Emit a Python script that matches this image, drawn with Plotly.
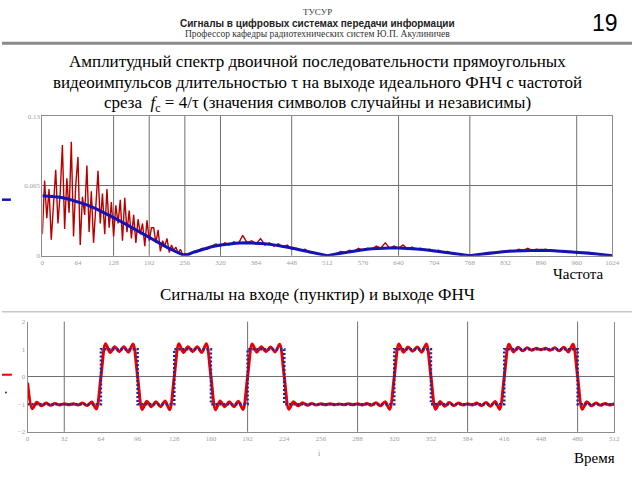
import plotly.graph_objects as go

W, H = 640, 480

# --- spectrum (top chart), magnitudes in thousandths ---
spec_f_lo = list(range(0, 257, 4))
spec_red_lo = [
    20, 70, 35, 62, 15, 48, 80, 30, 58, 103,
    25, 72, 40, 106, 18, 66, 92, 10, 55, 38,
    84, 22, 60, 12, 45, 79, 30, 58, 20, 62,
    26, 50, 18, 47, 30, 52, 14, 54, 22, 42,
    16, 38, 12, 34, 20, 30, 9, 33, 14, 26,
    26, 12, 24, 4, 14, 9, 16, 3, 10, 5,
    8, 2, 6, 1, 2,
]
spec_f_hi = list(range(264, 1025, 8))
spec_red_hi = [
    1, 4, 5, 7, 6, 9, 11, 9, 12, 10,
    13, 11, 19, 12, 14, 11, 16, 10, 12, 9,
    11, 8, 10, 6, 7, 5, 6, 3, 3, 2,
    1, 0, 1, 2, 4, 3, 5, 4, 7, 5,
    7, 6, 9, 7, 12, 7, 9, 7, 10, 6,
    8, 6, 7, 5, 6, 4, 5, 3, 4, 2,
    2, 1, 1, 0, 1, 1, 2, 3, 3, 3,
    4, 4, 5, 4, 6, 5, 7, 5, 6, 5,
    6, 5, 5, 4, 5, 4, 4, 3, 3, 3,
    3, 2, 1, 1, 0, 0,
]
env_f = list(range(0, 1025, 16))
env_mag = [
    55.8, 55.4, 54.4, 52.6, 50.2, 47.3, 43.8, 39.8, 35.5, 31.0, 26.3, 21.5, 16.7, 12.1, 7.8, 3.7, 0,
    3.3, 6.0, 8.3, 10.0, 11.3, 11.9, 12.1, 11.8, 11.1, 10.1, 8.8, 7.2, 5.4, 3.6, 1.8, 0,
    1.7, 3.2, 4.5, 5.6, 6.4, 6.9, 7.1, 7.1, 6.8, 6.3, 5.5, 4.6, 3.5, 2.4, 1.2, 0,
    1.1, 2.2, 3.1, 3.9, 4.5, 4.9, 5.1, 5.1, 4.9, 4.5, 4.0, 3.3, 2.6, 1.8, 0.9, 0,
]
spec_ticks = list(range(0, 1025, 64))
spec_grid_f = [128, 192, 256, 320, 448, 640, 768, 960]

# --- signals (bottom chart) ---
sig_t = list(range(0, 513, 4))
sig_out = [
    -0.22, -1.16, -0.93, -1.06, -0.96, -1.04, -0.97, -1.03, -0.98, -1.02, -0.98, -1.03, -0.96, -1.05, -0.92, -1.17,
    0,
    1.20, 0.88, 1.09, 0.91, 1.09, 0.89, 1.19,
    0,
    -1.19, -0.89, -1.09, -0.91, -1.09, -0.88, -1.20,
    0,
    1.20, 0.88, 1.09, 0.91, 1.09, 0.88, 1.20,
    0,
    -1.20, -0.88, -1.09, -0.91, -1.09, -0.89, -1.19,
    0,
    1.19, 0.89, 1.09, 0.91, 1.08, 0.90, 1.18,
    0,
    -1.18, -0.91, -1.06, -0.95, -1.04, -0.97, -1.03, -0.98, -1.02, -0.98, -1.02, -0.99,
    -1.02, -0.98, -1.02, -0.98, -1.03, -0.97, -1.04, -0.95, -1.06, -0.91, -1.18,
    0,
    1.19, 0.89, 1.08, 0.92, 1.08, 0.89, 1.19,
    0,
    -1.18, -0.90, -1.07, -0.94, -1.05, -0.96, -1.03, -0.98, -1.03, -0.96, -1.05, -0.94, -1.07, -0.90, -1.18,
    0,
    1.18, 0.90, 1.07, 0.94, 1.05, 0.96, 1.03, 0.98, 1.03, 0.96, 1.05, 0.94, 1.07, 0.90, 1.18,
    0,
    -1.18, -0.91, -1.06, -0.96, -1.04, -0.97, -1.03, -0.98,
]
bit_t = list(range(0, 513, 32))
bits = [-1, -1, 1, -1, 1, -1, 1, -1, -1, -1, 1, -1, -1, 1, 1, -1]
sig_ticks = list(range(0, 513, 32))
sig_grid_t = [32, 192, 288, 384, 480]

GRID = "#707070"
AXIS = "#8c8c8c"
TICK_FONT = dict(family="Liberation Serif", size=7, color="#a0a0a0")
SERIF = "Liberation Serif"


def px(x):
    return x / W


def py(y):
    return 1 - y / H


fig = go.Figure()

fig.add_trace(go.Scatter(
    x=spec_f_lo + spec_f_hi,
    y=[v / 1000 for v in spec_red_lo + spec_red_hi],
    mode="lines", line=dict(color="#b80000", width=1.4),
    xaxis="x", yaxis="y",
))
fig.add_trace(go.Scatter(
    x=env_f, y=[v / 1000 for v in env_mag],
    mode="lines", line=dict(color="#1414b4", width=3),
    xaxis="x", yaxis="y",
))
fig.add_trace(go.Scatter(
    x=sig_t, y=sig_out,
    mode="lines", line=dict(color="#e80000", width=3, shape="spline", smoothing=0.8),
    xaxis="x2", yaxis="y2",
))
fig.add_trace(go.Scatter(
    x=bit_t, y=bits + [bits[-1]],
    mode="lines", line=dict(color="#24249c", width=2.5, dash="2px,2px", shape="hv"),
    xaxis="x2", yaxis="y2",
))

for f in spec_grid_f:
    fig.add_shape(type="line", xref="x", yref="y domain", x0=f, x1=f, y0=0, y1=1,
                  line=dict(color=GRID, width=1), layer="below")
for t in sig_grid_t:
    fig.add_shape(type="line", xref="x2", yref="y2 domain", x0=t, x1=t, y0=0, y1=1,
                  line=dict(color=GRID, width=1), layer="below")

# slide decorations
fig.add_shape(type="line", xref="paper", yref="paper", x0=0, x1=1, y0=py(40), y1=py(40),
              line=dict(color="#8a8a8a", width=3))
fig.add_shape(type="line", xref="paper", yref="paper", x0=0, x1=1, y0=py(313), y1=py(313),
              line=dict(color="#c8c8c8", width=1.5))
fig.add_shape(type="line", xref="paper", yref="paper", x0=0, x1=px(9), y0=py(199), y1=py(199),
              line=dict(color="#1414b4", width=2.5))
fig.add_shape(type="line", xref="paper", yref="paper", x0=0, x1=px(10), y0=py(377), y1=py(377),
              line=dict(color="#e80000", width=2))
fig.add_shape(type="circle", xref="paper", yref="paper", x0=px(3), x1=px(5), y0=py(396), y1=py(394),
              line=dict(width=0), fillcolor="#24249c")


def text(x, y, s, size, family=SERIF, color="#000000", xanchor="center"):
    fig.add_annotation(x=px(x), y=py(y), xref="paper", yref="paper", text=s, showarrow=False,
                       xanchor=xanchor, yanchor="middle",
                       font=dict(family=family, size=size, color=color))


text(320, 8, "ТУСУР", 9, color="#333333")
text(320, 20, "<b>Сигналы в цифровых системах передачи информации</b>", 10,
     family="Liberation Sans", color="#222222")
text(320, 31, "Профессор кафедры радиотехнических систем Ю.П. Акулиничев", 9.5, color="#333333")
text(613, 19, "19", 23, family="Liberation Sans")
text(320, 58, "Амплитудный спектр двоичной последовательности прямоугольных", 17)
text(320, 80, "видеоимпульсов длительностью τ на выходе идеального ФНЧ с частотой", 17)
text(320, 102, "среза  <i>f</i><sub>c</sub> = 4/τ (значения символов случайны и независимы)", 17)
text(320, 295, "Сигналы на входе (пунктир) и выходе ФНЧ", 17)
text(585, 275, "Частота", 15)
text(602, 462, "Время", 15)
text(323, 457, "i", 8, color="#999999")

fig.update_layout(
    width=W, height=H,
    margin=dict(l=0, r=0, t=0, b=0),
    paper_bgcolor="white", plot_bgcolor="white",
    showlegend=False,
    xaxis=dict(domain=[px(41), px(620)], range=[0, 1024], anchor="y",
               tickvals=spec_ticks, ticks="", showgrid=False, zeroline=False,
               showline=True, linecolor=AXIS, linewidth=1, mirror=True, tickfont=TICK_FONT),
    yaxis=dict(domain=[py(256), py(114)], range=[0, 0.13], anchor="x",
               tickvals=[0, 0.065, 0.13], ticktext=["0", "0.065", "0.13"], ticks="",
               showgrid=True, gridcolor=GRID, gridwidth=1, zeroline=False,
               showline=True, linecolor=AXIS, linewidth=1, mirror=True, tickfont=TICK_FONT),
    xaxis2=dict(domain=[px(26), px(622)], range=[0, 512], anchor="y2",
                tickvals=sig_ticks, ticks="", showgrid=False, zeroline=False,
                showline=True, linecolor=AXIS, linewidth=1, mirror=False, tickfont=TICK_FONT),
    yaxis2=dict(domain=[py(435), py(323)], range=[-2, 2], anchor="x2",
                tickvals=[-2, -1, 0, 1, 2], ticks="", showgrid=False,
                zeroline=True, zerolinecolor=GRID, zerolinewidth=1,
                showline=True, linecolor=AXIS, linewidth=1, mirror=True, tickfont=TICK_FONT),
)

fig.write_html("out.html", config={"displayModeBar": False},
               post_script="document.body.style.margin='0';")
